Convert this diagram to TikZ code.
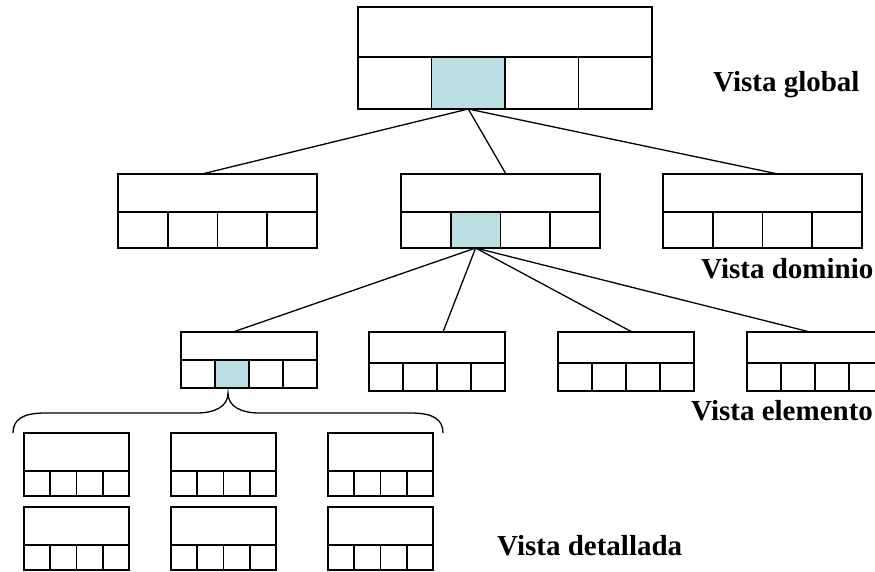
\documentclass[tikz,border=0pt]{standalone}
\usepackage{fontspec}
\setmainfont{Liberation Serif}
\usetikzlibrary{calc}
\definecolor{hl}{RGB}{187,224,227}
\tikzset{
  boxpart/.style={draw=black, line width=1.8pt, inner sep=0pt, outer sep=0pt, fill=white},
  conn/.style={draw=black, line width=1.3pt},
  lbl/.style={font=\fontsize{29}{33}\selectfont\bfseries, inner sep=0pt, anchor=base west},
}
% name, x left, y top, width, top height, bottom height, highlighted cell (0 = none)
\newcommand\cbox[7]{%
  \node[boxpart, minimum width=#4pt, minimum height=#5pt, anchor=north west] (#1) at (#2,#3) {};
  \foreach \i in {1,...,4} {
    \pgfmathsetmacro\cw{#4/4}
    \ifnum\i=#7 \def\fc{hl}\else\def\fc{white}\fi
    \node[boxpart, fill=\fc, minimum width=\cw pt, minimum height=#6pt, anchor=north west]
      (#1-\i) at ($(#1.south west)+({(\i-1)*\cw},0)$) {};
  }
}
\begin{document}
\begin{tikzpicture}[x=1pt,y=-1pt]
\useasboundingbox (0,0) rectangle (875,571);
\coordinate (c2a) at (202,174);
\coordinate (c2b) at (506,174);
\coordinate (c2c) at (778,174);
\coordinate (c3a) at (233,332);
\coordinate (c3b) at (443,332);
\coordinate (c3c) at (632,332);
\coordinate (c3d) at (810,332);
% level 1
\cbox{G}{358}{7}{294}{50}{52}{2}
% level 2
\cbox{Da}{118}{174}{199}{38}{36}{0}
\cbox{Db}{401}{174}{199}{38}{36}{2}
\cbox{Dc}{663}{174}{199}{38}{36}{0}
% level 3
\cbox{Ea}{181}{332}{136}{28}{28}{2}
\cbox{Eb}{369}{332}{136}{31}{28}{0}
\cbox{Ec}{558}{332}{136}{31}{28}{0}
\cbox{Ed}{747}{332}{136}{31}{28}{0}
% level 4
\cbox{Fa}{24}{433}{105}{38}{25}{0}
\cbox{Fb}{171}{433}{105}{38}{25}{0}
\cbox{Fc}{328}{433}{105}{38}{25}{0}
\cbox{Fd}{24}{507}{105}{38}{25}{0}
\cbox{Fe}{171}{507}{105}{38}{25}{0}
\cbox{Ff}{328}{507}{105}{38}{25}{0}
% connectors
\draw[conn] (G-2.south) -- (c2a);
\draw[conn] (G-2.south) -- (c2b);
\draw[conn] (G-2.south) -- (c2c);
\draw[conn] (Db-2.south) -- (c3a);
\draw[conn] (Db-2.south) -- (c3b);
\draw[conn] (Db-2.south) -- (c3c);
\draw[conn] (Db-2.south) -- (c3d);
% brace
\coordinate (bl) at (13,433);
\coordinate (br) at (443,433);
\coordinate (bt) at (228,393);
\draw[conn] (bl) .. controls (13,420) and (22,413) .. (45,413) -- (196,413)
  .. controls (216,413) and (228,406) .. (bt)
  .. controls (228,406) and (240,413) .. (260,413) -- (411,413)
  .. controls (434,413) and (443,420) .. (br);
% labels
\node[lbl] (tg) at (713,91) {Vista global};
\node[lbl] (td) at (701,278) {Vista dominio};
\node[lbl] (te) at (691,420) {Vista elemento};
\node[lbl] (tf) at (497,555) {Vista detallada};
\end{tikzpicture}
\end{document}
